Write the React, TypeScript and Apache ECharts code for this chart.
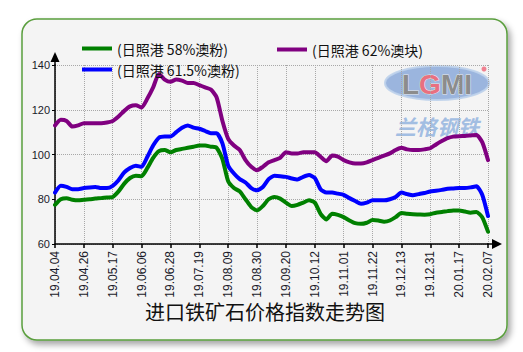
import React, { useEffect, useRef } from "react";
import * as echarts from "echarts";

const tickLabels = ["19.04.04","19.04.26","19.05.17","19.06.06","19.06.28","19.07.19","19.08.09","19.08.30","19.09.20","19.10.12","19.11.01","19.11.22","19.12.13","19.12.31","20.01.17","20.02.07"];
const pointsPerTick = 5;

const seriesNames = ["(日照港 58%澳粉)", "(日照港 61.5%澳粉)", "(日照港 62%澳块)"];

const fines58 = [77.5,80,80.5,79.8,79.5, 79.8,80,80.3,80.5,80.8, 81,83.5,87,89.5,90.5, 90.3,94,98.5,101.5,102, 101,102,102.5,103,103.5, 104,104,103.5,103,98, 88,85,83.5,80,76.5, 75,77,80,81,80.3, 78.5,77,77.5,78.5,79.5, 78.5,73.5,71,73.5,73, 72,70.5,69.3,69,69.5, 70.7,70.5,70,70.5,72, 73.8,73.5,73.3,73.2,73.1, 73.3,74,74.3,74.7,75, 75,74.5,74,74.3,72, 65.5];
const fines615 = [83,86,85.5,84.5,84.5, 85,85.3,85.5,85,85, 86,88.5,92,94,95, 94.5,99,104,107.5,108, 108,110,112,113,112, 111.5,110.5,109.5,109.5,105, 95,91.5,89,87.5,85, 84,85.5,89,90.5,90.3, 90,89.3,88.8,90,90.8, 89.5,84.5,83,83,82.5, 82,80.5,79.2,78,78.5, 79.5,79.5,79.5,80,81, 83,82.3,81.8,82.3,82.8, 83.5,83.8,84.2,84.7,84.8, 85,85,85.3,85.8,82, 72.5];
const lump62 = [113,115.5,115,112.5,113, 114,114,114,114,114.3, 115,117,119.5,121.5,122, 121,125,130,136,133.5, 132.5,133.5,133,132,132, 131,130,129,125.5,115, 107,104,102,97.5,94.5, 93,94.5,96.5,97.5,98.5, 101,100.5,100.5,101,101, 101,99,97,99.5,99, 97.5,96.5,96,96,96.5, 97.5,98.5,99.5,100.5,102, 103,102.3,102,102,102.3, 102.8,104.5,106,107.3,108, 108.2,108.3,108.5,108.7,105.5, 97.5];

const yMin = 60, yMax = 140, yStep = 20;
const colors = ["#008000", "#0000ff", "#800080"];
const chartTitle = "进口铁矿石价格指数走势图";

export default function App() {
  const ref = useRef<HTMLDivElement>(null);
  useEffect(() => {
    if (!ref.current) return;
    const chart = echarts.init(ref.current, null, { renderer: "svg" });
    const categories = fines58.map((_, i) => (i % pointsPerTick === 0 ? tickLabels[i / pointsPerTick] : ""));
    const font = "'Liberation Sans', Arial, sans-serif";
    const cjk = "'Noto Sans CJK SC', 'Liberation Sans', sans-serif";
    const mk = (name: string, data: number[], color: string) => ({
      name, type: "line", data, symbol: "none", showSymbol: false, smooth: 0.2,
      color,
      lineStyle: { color, width: 4, cap: "round", join: "round" },
      emphasis: { disabled: true }, z: 3,
    });
    const legendText = { fontSize: 14, color: "#111", fontFamily: cjk, lineHeight: 15 };
    chart.setOption({
      animation: false,
      grid: { left: 55, right: 35, top: 65, bottom: 108 },
      legend: [
        {
          data: [seriesNames[0], seriesNames[1]], orient: "vertical", left: 82, top: 41,
          icon: "rect", itemWidth: 30, itemHeight: 4, itemGap: 6, padding: 0,
          textStyle: legendText, selectedMode: false,
        },
        {
          data: [seriesNames[2]], orient: "vertical", left: 277, top: 42,
          icon: "rect", itemWidth: 30, itemHeight: 4, padding: 0,
          textStyle: legendText, selectedMode: false,
        },
      ],
      xAxis: {
        type: "category", data: categories, boundaryGap: false,
        axisLine: { show: true, lineStyle: { color: "#000", width: 1.5 }, symbol: ["none", "triangle"], symbolSize: [10, 10], symbolOffset: [0, 9] },
        axisTick: { show: true, interval: pointsPerTick - 1, length: 4, lineStyle: { color: "#000", width: 1.5 } },
        axisLabel: { interval: pointsPerTick - 1, rotate: 90, fontSize: 12, color: "#1a1a2a", fontFamily: font, margin: 7 },
        splitLine: { show: true, interval: pointsPerTick - 1, lineStyle: { color: "#a8a8a8", type: "dotted", width: 1 } },
      },
      yAxis: {
        type: "value", min: yMin, max: yMax, interval: yStep,
        axisLine: { show: true, lineStyle: { color: "#000", width: 1.5 }, symbol: ["none", "triangle"], symbolSize: [9, 10], symbolOffset: [0, 8] },
        axisTick: { show: true, length: 3, lineStyle: { color: "#000" } },
        axisLabel: { fontSize: 11, color: "#1a1a2a", fontFamily: font, margin: 5 },
        splitLine: { show: true, lineStyle: { color: "#a8a8a8", type: "dotted", width: 1 } },
      },
      series: [
        mk(seriesNames[0], fines58, colors[0]),
        mk(seriesNames[1], fines615, colors[1]),
        mk(seriesNames[2], lump62, colors[2]),
      ],
      graphic: [
        {
          type: "rect", z: -10, silent: true,
          shape: { x: 22, y: 19, width: 485, height: 321, r: 15 },
          style: { fill: "#f4f4f4", stroke: "#5a9e3e", lineWidth: 1.5, shadowBlur: 6, shadowOffsetX: 3, shadowOffsetY: 4, shadowColor: "rgba(0,0,0,0.35)" },
        },
        {
          type: "ellipse", z: -5, silent: true,
          shape: { cx: 437, cy: 83, rx: 52, ry: 17 },
          style: { fill: "rgba(125,160,215,0.75)", stroke: "rgba(190,210,235,0.9)", lineWidth: 2 },
        },
        {
          type: "text", z: -4, silent: true, x: 437, y: 84,
          style: {
            text: "{a|L}{g|G}{a|MI}", align: "center", verticalAlign: "middle",
            rich: {
              a: { fontSize: 28, fontWeight: "bold", fill: "#8c8c8c", stroke: "#e8e8e8", lineWidth: 1, fontFamily: font },
              g: { fontSize: 28, fontWeight: "bold", fill: "#e87080", stroke: "#e8e8e8", lineWidth: 1, fontFamily: font },
            },
          },
        },
        {
          type: "circle", z: -4, silent: true, shape: { cx: 484, cy: 69, r: 2.5 }, style: { fill: "#f08090" },
        },
        {
          type: "text", z: -4, silent: true, x: 437, y: 126,
          style: { text: "兰格钢铁", align: "center", verticalAlign: "middle", fontSize: 21, fontWeight: "bold", fontStyle: "italic", fill: "rgba(140,175,222,0.8)", fontFamily: cjk, letterSpacing: 9 },
        },
        {
          type: "line", z: 5, silent: true, shape: { x1: 272, y1: 37, x2: 272, y2: 88 },
          style: {
            lineWidth: 2,
            stroke: new echarts.graphic.LinearGradient(0, 0, 0, 1, [
              { offset: 0, color: "rgba(0,0,0,0)" },
              { offset: 0.4, color: "rgba(0,0,0,1)" },
              { offset: 0.6, color: "rgba(0,0,0,1)" },
              { offset: 1, color: "rgba(0,0,0,0)" },
            ]),
          },
        },
        { type: "line", z: 5, silent: true, shape: { x1: 487, y1: 244, x2: 493, y2: 244 }, style: { stroke: "#000", lineWidth: 1.5 } },
        { type: "line", z: 5, silent: true, shape: { x1: 55, y1: 61, x2: 55, y2: 66 }, style: { stroke: "#000", lineWidth: 1.5 } },
        {
          type: "text", z: 5, silent: true, x: 265, y: 311,
          style: { text: chartTitle, align: "center", verticalAlign: "middle", fontSize: 20, fill: "#111", fontFamily: cjk },
        },
      ],
    });
    return () => chart.dispose();
  }, []);
  return <div ref={ref} style={{ position: "absolute", left: 0, top: 0, width: 523, height: 352 }} />;
}
